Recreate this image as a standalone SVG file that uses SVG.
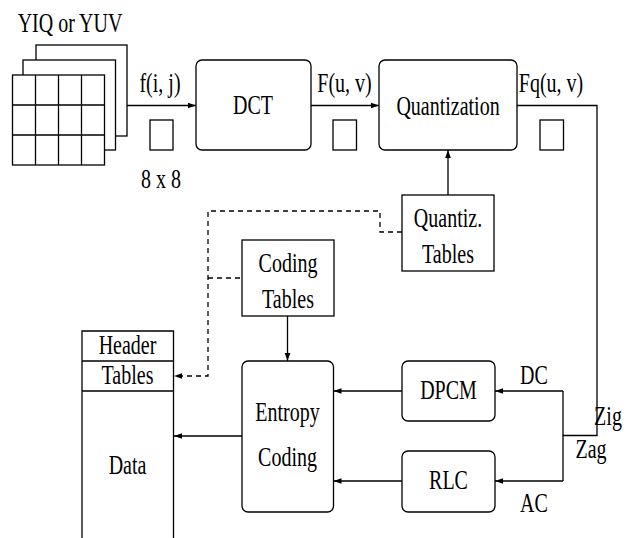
<svg xmlns="http://www.w3.org/2000/svg" width="639" height="538" viewBox="0 0 639 538">
<style>
.b{fill:#fff;stroke:#000;stroke-width:1.3}
.l{fill:none;stroke:#000;stroke-width:1.3}
.d{fill:none;stroke:#000;stroke-width:1.3;stroke-dasharray:5,4}
text{font-family:"Liberation Serif","Times New Roman",serif;font-size:20px;fill:#000;text-anchor:middle}
</style>
<defs>
<marker id="a" markerUnits="userSpaceOnUse" markerWidth="9" markerHeight="8" refX="8" refY="4" orient="auto">
<path d="M0,1.2 L8,4 L0,6.8 Z" fill="#000"/>
</marker>
</defs>
<rect width="639" height="538" fill="#fff"/>

<g id="image">
<rect class="b" x="36" y="45" width="91" height="91"/>
<rect class="b" x="23" y="60" width="92.5" height="90"/>
<rect class="b" x="12.5" y="75" width="92" height="90"/>
<path class="l" d="M35.5,75V165M58.5,75V165M81.5,75V165M12.5,105H104.5M12.5,135H104.5"/>
<text transform="translate(70,32) scale(1,1.35)">YIQ or YUV</text>
</g>

<g id="block1">
<rect class="b" x="150" y="120" width="23" height="30"/>
<text transform="translate(161,188) scale(1,1.35)">8 x 8</text>
</g>
<g id="block2"><rect class="b" x="333" y="120" width="23.5" height="30"/></g>
<g id="block3"><rect class="b" x="540" y="120" width="23.5" height="30"/></g>

<g id="dct">
<rect class="b" x="196" y="60" width="115" height="90" rx="6"/>
<text transform="translate(253,114) scale(1,1.35)">DCT</text>
</g>

<g id="quant">
<rect class="b" x="379" y="60" width="138" height="90" rx="6"/>
<text transform="translate(448,115) scale(1,1.35)">Quantization</text>
</g>

<g id="qtables">
<rect class="b" x="402" y="195" width="92" height="76"/>
<text transform="translate(448,227) scale(1,1.35)">Quantiz.</text>
<text transform="translate(448,263) scale(1,1.35)">Tables</text>
</g>

<g id="ctables">
<rect class="b" x="242" y="240" width="92" height="76"/>
<text transform="translate(288,272) scale(1,1.35)">Coding</text>
<text transform="translate(288,308) scale(1,1.35)">Tables</text>
</g>

<g id="entropy">
<rect class="b" x="242" y="361" width="91.5" height="151" rx="6"/>
<text transform="translate(287.5,421) scale(1,1.35)">Entropy</text>
<text transform="translate(287.5,466) scale(1,1.35)">Coding</text>
</g>

<g id="dpcm">
<rect class="b" x="402" y="361" width="93" height="60" rx="6"/>
<text transform="translate(448.5,399) scale(1,1.35)">DPCM</text>
</g>

<g id="rlc">
<rect class="b" x="402" y="451" width="93" height="61" rx="6"/>
<text transform="translate(448.5,489) scale(1,1.35)">RLC</text>
</g>

<g id="stream">
<path class="l" d="M82,540V331H173.5V540M82,361H173.5M82,391H173.5"/>
<text transform="translate(127.5,354) scale(1,1.35)">Header</text>
<text transform="translate(127.5,384) scale(1,1.35)">Tables</text>
<text transform="translate(127.5,474) scale(1,1.35)">Data</text>
</g>

<g id="connectors">
<path class="l" d="M127,105.5H196" marker-end="url(#a)"/>
<path class="l" d="M311,105.5H379" marker-end="url(#a)"/>
<path class="l" d="M517,105.5H597V435.5H563"/>
<path class="l" d="M563,391V481"/>
<path class="l" d="M563,391H495" marker-end="url(#a)"/>
<path class="l" d="M563,481H495" marker-end="url(#a)"/>
<path class="l" d="M402,391H333.5" marker-end="url(#a)"/>
<path class="l" d="M402,481H333.5" marker-end="url(#a)"/>
<path class="l" d="M242,436H174" marker-end="url(#a)"/>
<path class="l" d="M287.5,316V361" marker-end="url(#a)"/>
<path class="l" d="M448,195V150" marker-end="url(#a)"/>
<path class="d" d="M402,232H380V211H208V376H174" marker-end="url(#a)"/>
<path class="d" d="M208,278H242"/>
<text transform="translate(160,92) scale(1,1.35)">f(i, j)</text>
<text transform="translate(344.5,92) scale(1,1.35)">F(u, v)</text>
<text transform="translate(551,92) scale(1,1.35)">Fq(u, v)</text>
<text transform="translate(534,384) scale(1,1.35)">DC</text>
<text transform="translate(534,512) scale(1,1.35)">AC</text>
<text transform="translate(608,425) scale(1,1.35)">Zig</text>
<text transform="translate(591,458) scale(1,1.35)">Zag</text>
</g>
</svg>
